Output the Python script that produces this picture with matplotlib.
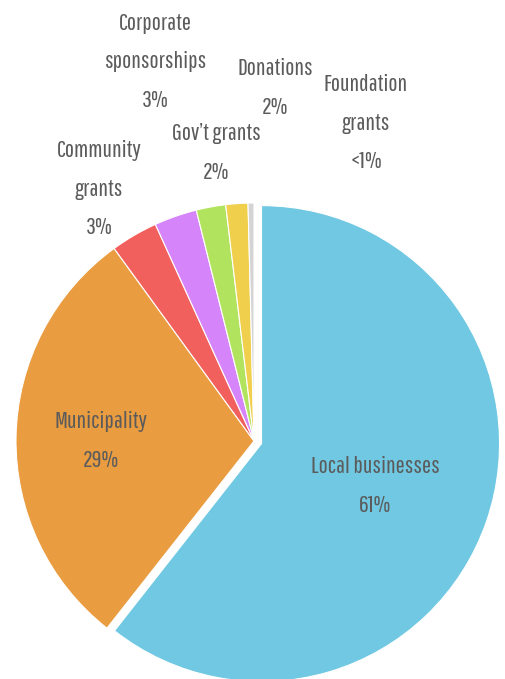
import matplotlib.pyplot as plt

# funding sources, percent of total
sources = ['Local businesses', 'Municipality', 'Community grants',
           'Corporate sponsorships', 'Gov\u2019t grants', 'Donations', 'Foundation grants']
shares = [60.6, 29.4, 3.2, 2.9, 2.0, 1.5, 0.4]
colors = ['#70C8E2', '#E99C40', '#F2605D', '#D684F9', '#B2E35F', '#EFCF4B', '#D4D4D4']

# label text (with line breaks) and where each label sits, in pixels from top-left
label_text = ['Local businesses', 'Municipality', 'Community\ngrants',
              'Corporate\nsponsorships', 'Gov\u2019t grants', 'Donations', 'Foundation\ngrants']
label_xy = [(375, 486), (101, 441), (99, 189), (155, 62), (216, 153), (275, 88), (366, 123)]


def pct(v):
    return '<1%' if v < 1 else '%d%%' % round(v)


W, H = 505, 679
fig = plt.figure(figsize=(W / 100, H / 100), dpi=100)
ax = fig.add_axes([0, 0, 1, 1])

# pulling the big slice out by 8 px leaves the white gap
explode = [8] + [0] * (len(shares) - 1)
ax.pie(shares, colors=colors, startangle=90, counterclock=False,
       center=(254, H - 441), radius=238, explode=explode,
       wedgeprops=dict(edgecolor='white', linewidth=0.8))

ax.set_xlim(0, W)
ax.set_ylim(0, H)
ax.set_aspect('equal')
ax.axis('off')

for txt, v, (x, y) in zip(label_text, shares, label_xy):
    ax.text(x, H - y, txt + '\n' + pct(v), ha='center', va='center',
            fontsize=17.5, color='#5b5b5b', linespacing=2.02,
            family=['Pathway Gothic One', 'DejaVu Sans'])

fig.savefig('out.png', dpi=100)
